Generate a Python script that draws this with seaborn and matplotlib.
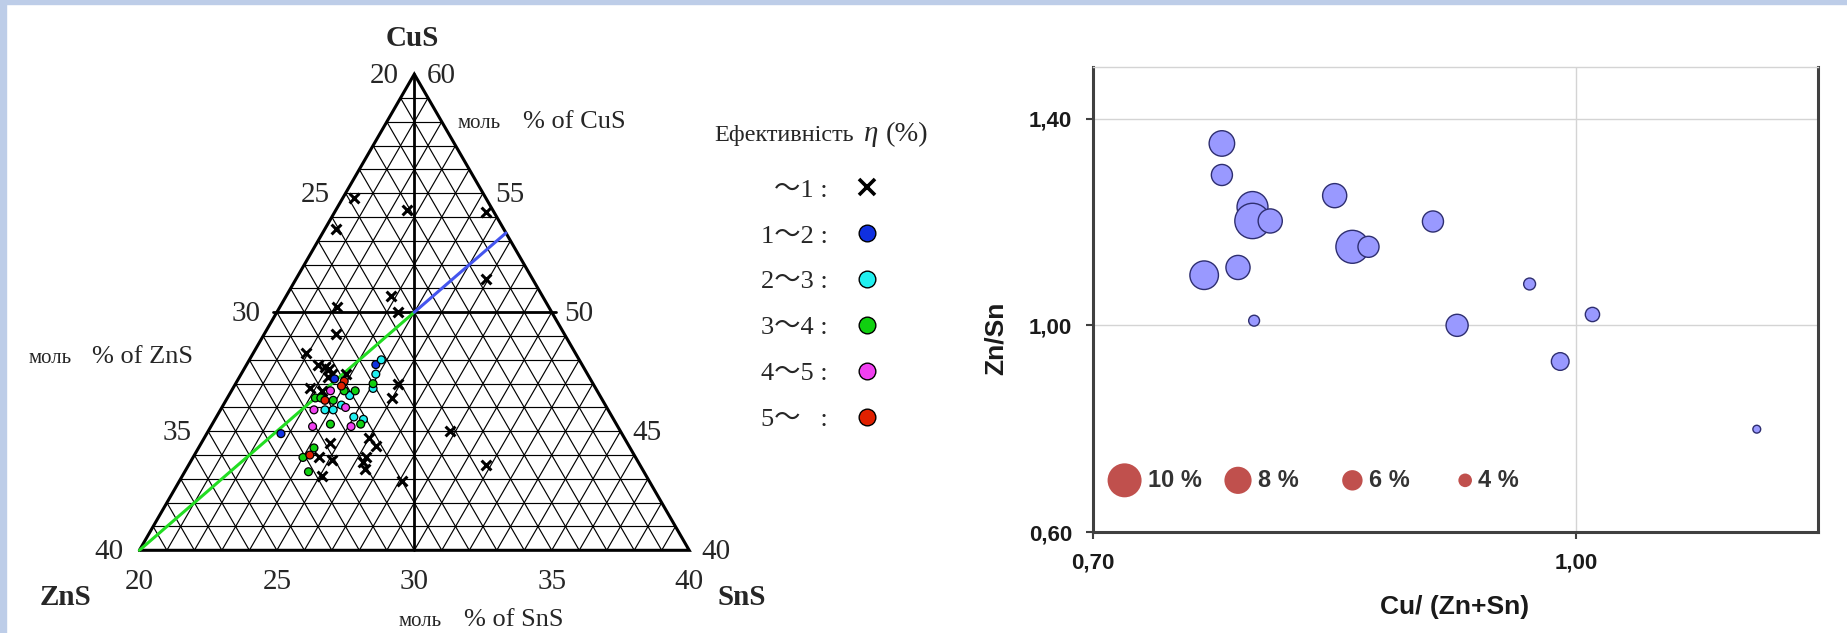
import numpy as np
import pandas as pd
import matplotlib
matplotlib.use("Agg")
import matplotlib.pyplot as plt
from matplotlib.lines import Line2D
from matplotlib.patches import Rectangle
import seaborn as sns

W, H = 1847, 633

# ---- ternary data (mol % CuS, mol % SnS; ZnS = 100 - CuS - SnS) ----
cross_cus = [54.8, 54.3, 54.2, 53.5, 51.4, 50.7, 50.2, 50.0, 49.1, 48.3, 47.8, 47.7,
             47.6, 47.4, 47.4, 47.3, 46.8, 46.7, 47.0, 46.4, 44.5, 43.9, 43.8, 43.1,
             44.7, 44.4, 43.9, 43.7, 43.4, 42.9, 45.0, 43.6]
cross_sns = [20.4, 22.6, 25.5, 20.4, 26.9, 23.8, 22.1, 24.4, 22.6, 21.9, 22.6, 22.9,
             23.1, 23.3, 23.8, 23.2, 22.8, 23.3, 25.9, 26.0, 24.7, 24.6, 25.1, 25.1,
             26.0, 26.4, 26.3, 26.3, 26.5, 28.1, 28.8, 30.8]

blue_cus = [47.8, 47.2, 44.9]
blue_sns = [24.7, 23.5, 22.7]
cyan_cus = [48.0, 47.4, 46.8, 46.5, 45.9, 45.9, 46.1, 45.6, 45.5]
cyan_sns = [24.8, 24.9, 25.1, 24.4, 23.8, 24.1, 24.3, 25.0, 25.4]
green_cus = [47.0, 46.7, 46.7, 46.4, 46.4, 46.3, 45.3, 45.3, 44.3, 43.9, 43.3]
green_sns = [25.0, 24.1, 24.5, 23.2, 23.4, 23.9, 24.3, 25.4, 24.2, 24.0, 24.5]
magenta_cus = [46.7, 45.9, 46.0, 45.2, 45.2]
magenta_sns = [23.6, 23.4, 24.5, 23.7, 25.1]
red_cus = [47.1, 46.9, 46.3, 44.0]
red_sns = [23.9, 23.9, 23.6, 24.2]

eff_classes = ["1\u301c2", "2\u301c3", "3\u301c4", "4\u301c5", "5\u301c"]
eff_colors = ["#1030E0", "#20F0F0", "#10D010", "#F040F0", "#E02000"]

# stoichiometric line (green part, blue part)
line_cus = [40.0, 50.0, 53.33]
line_sns = [20.0, 25.0, 26.67]

zns_ticks = [20, 25, 30, 35, 40]   # left side, at CuS = 60..40
cus_ticks = [60, 55, 50, 45, 40]   # right side
sns_ticks = [20, 25, 30, 35, 40]   # bottom

# ---- bubble chart data ----
cu_ratio = [0.780, 0.780, 0.799, 0.799, 0.810, 0.850, 0.861, 0.871, 0.911,
            0.769, 0.790, 0.800, 0.926, 0.971, 1.010, 0.990, 1.112]
zn_sn = [1.352, 1.291, 1.229, 1.202, 1.202, 1.251, 1.152, 1.152, 1.201,
         1.097, 1.112, 1.009, 1.000, 1.080, 1.021, 0.930, 0.799]
efficiency = [7.5, 6.2, 9.1, 10.4, 7.1, 7.1, 9.7, 6.2, 6.2,
              8.4, 7.1, 3.2, 6.5, 3.5, 4.2, 5.2, 2.3]

scale_eff = [10, 8, 6, 4]
scale_x = [0.7196, 0.790, 0.861, 0.931]
scale_y = [0.700, 0.700, 0.700, 0.700]

x_ticks = [0.70, 1.00]
y_ticks = [0.60, 1.00, 1.40]

sns.set_theme(style="white")
plt.rcParams["font.family"] = ["Liberation Serif", "Noto Sans CJK JP", "DejaVu Sans"]

SQ3 = np.sqrt(3) / 2


def tern(cu, sn):
    cu = np.asarray(cu, float)
    sn = np.asarray(sn, float)
    return (sn - 20) + (cu - 40) / 2, (cu - 40) * SQ3


fig = plt.figure(figsize=(W / 100, H / 100), dpi=100)
fig.patch.set_facecolor("white")
fig.patches.append(Rectangle((0, 0), 6 / W, 1, transform=fig.transFigure,
                             color="#BDCDE8", zorder=0))
fig.patches.append(Rectangle((0, 1 - 4 / H), 1, 4 / H, transform=fig.transFigure,
                             color="#BDCDE8", zorder=0))

# ================= ternary panel =================
PX = 27.49
X0, Y0 = 139.4, 550.3
ax_t = fig.add_axes([0, 0, 720 / W, 1])
ax_t.set_xlim(-X0 / PX, (720 - X0) / PX)
ax_t.set_ylim((Y0 - H) / PX, Y0 / PX)
ax_t.axis("off")

# 1 % grid
for k in range(1, 20):
    c = 40 + k
    x, y = tern([c, c], [20, 80 - c])
    ax_t.plot(x, y, color="black", lw=0.85, zorder=1)
    s = 20 + k
    x, y = tern([40, 80 - s], [s, s])
    ax_t.plot(x, y, color="black", lw=0.85, zorder=1)
    z = 20 + k
    x, y = tern([40, 80 - z], [60 - z, 20])
    ax_t.plot(x, y, color="black", lw=0.85, zorder=1)

# outline and bold guide lines
x, y = tern([40, 40, 60, 40], [20, 40, 20, 20])
ax_t.plot(x, y, color="black", lw=2.2, zorder=2, solid_joinstyle="miter")
x, y = tern([40, 60], [30, 20])
ax_t.plot(x, y, color="black", lw=2.0, zorder=2)
x, y = tern([50, 50], [19.85, 30.15])
ax_t.plot(x, y, color="black", lw=2.0, zorder=2)

x, y = tern(line_cus, line_sns)
ax_t.plot(x[:2], y[:2], color="#22DD22", lw=2.2, zorder=3)
ax_t.plot(x[1:], y[1:], color="#4455EE", lw=2.2, zorder=3)

# points
cx, cy = tern(cross_cus, cross_sns)
sns.scatterplot(x=cx, y=cy, marker="x", color="black", s=50, linewidth=2.2,
                ax=ax_t, zorder=4, legend=False)

rows = []
for cls, cus, sns_ in zip(eff_classes,
                          [blue_cus, cyan_cus, green_cus, magenta_cus, red_cus],
                          [blue_sns, cyan_sns, green_sns, magenta_sns, red_sns]):
    for c, s in zip(cus, sns_):
        rows.append((cls, c, s))
df = pd.DataFrame(rows, columns=["cls", "cu", "sn"])
df["X"], df["Y"] = tern(df["cu"], df["sn"])
sns.scatterplot(data=df, x="X", y="Y", hue="cls", hue_order=eff_classes,
                palette=dict(zip(eff_classes, eff_colors)), s=32,
                edgecolor="black", linewidth=0.9, ax=ax_t, zorder=5, legend=False)

# tick labels
num_font = dict(fontsize=21, family="Liberation Serif")
for z, c in zip(zns_ticks, [60, 55, 50, 45, 40]):
    x, y = tern(c, 20)
    ax_t.annotate(str(z), (x, y), xytext=(-16, -2), textcoords="offset pixels",
                  ha="right", va="center", **num_font)
for c in cus_ticks:
    x, y = tern(c, 80 - c)
    ax_t.annotate(str(c), (x, y), xytext=(12, -2), textcoords="offset pixels",
                  ha="left", va="center", **num_font)
for s in sns_ticks:
    x, y = tern(40, s)
    ax_t.annotate(str(s), (x, y), xytext=(0, -32), textcoords="offset pixels",
                  ha="center", va="center", **num_font)

bold_font = dict(fontsize=21, family="Liberation Serif", fontweight="bold")
x, y = tern(60, 20)
ax_t.annotate("CuS", (x, y), xytext=(-2, 36), textcoords="offset pixels",
              ha="center", va="center", **bold_font)
x, y = tern(40, 20)
ax_t.annotate("ZnS", (x, y), xytext=(-74, -47), textcoords="offset pixels",
              ha="center", va="center", **bold_font)
x, y = tern(40, 40)
ax_t.annotate("SnS", (x, y), xytext=(53, -47), textcoords="offset pixels",
              ha="center", va="center", **bold_font)


def ftext(px, py, s, **kw):
    return fig.text(px / W, 1 - py / H, s, **kw)


for mx, px_, py, lab in [(458, 523, 128, "% of CuS"), (29, 92, 363, "% of ZnS"),
                         (399, 464, 626, "% of SnS")]:
    ftext(mx, py, "моль", fontsize=15, va="baseline", ha="left")
    ftext(px_, py, lab, fontsize=19, va="baseline", ha="left")

# legend
ftext(714, 141, "Ефективність", fontsize=17.5, va="baseline", ha="left")
ftext(864, 141, "\u03b7", fontsize=21, va="baseline", ha="left", style="italic")
ftext(886, 141, "(%)", fontsize=20.5, va="baseline", ha="left")

handles = [Line2D([], [], ls="", marker="x", color="black", ms=11, mew=2.6)]
for col in eff_colors:
    handles.append(Line2D([], [], ls="", marker="o", mfc=col, mec="black",
                          mew=1.0, ms=12))
labels = ["\u301c1 :"] + [f"{c} :" if c != "5\u301c" else "5\u301c\u2002 :" for c in eff_classes]
ax_t.legend(handles, labels, loc="upper right", markerfirst=False, frameon=False,
            bbox_to_anchor=(893 / W, 1 - 165 / H), bbox_transform=fig.transFigure,
            borderpad=0, handlelength=1.0, handletextpad=0.98, labelspacing=0.85,
            prop=dict(family=["Liberation Serif", "Noto Sans CJK JP"], size=19))

# ================= bubble chart =================
ax_b = fig.add_axes([1093 / W, 1 - 532 / H, (1818 - 1093) / W, (532 - 67) / H])
bub_px = 3.4  # bubble diameter in px per % efficiency
sizes = {v: (bub_px * 0.72 * v) ** 2 for v in set(efficiency)}
sns.scatterplot(x=cu_ratio, y=zn_sn, size=efficiency, sizes=sizes,
                color="#9999FF", edgecolor="#2E2E70", linewidth=1.0,
                ax=ax_b, legend=False, zorder=3)
sizes_s = {v: (bub_px * 0.72 * v) ** 2 for v in scale_eff}
sns.scatterplot(x=scale_x, y=scale_y, size=scale_eff, sizes=sizes_s,
                color="#C0504D", edgecolor="none", ax=ax_b, legend=False, zorder=3)
for v, sx, sy in zip(scale_eff, scale_x, scale_y):
    ax_b.annotate(f"{v} %", (sx, sy), xytext=(bub_px * v / 2 + 6, 0),
                  textcoords="offset pixels", ha="left", va="center",
                  fontsize=17, fontweight="bold", color="#333333",
                  family="Liberation Sans")

ax_b.set_xlim(0.70, 1.15)
ax_b.set_ylim(0.60, 1.50)
ax_b.set_xticks(x_ticks)
ax_b.set_yticks(y_ticks)
ax_b.set_xticklabels([f"{t:.2f}".replace(".", ",") for t in x_ticks])
ax_b.set_yticklabels([f"{t:.2f}".replace(".", ",") for t in y_ticks])
ax_b.grid(True, color="#D4D4D4", lw=1.0)
ax_b.set_axisbelow(True)
for side in ["left", "bottom", "right"]:
    ax_b.spines[side].set_color("#404040")
    ax_b.spines[side].set_linewidth(2.2)
ax_b.spines["top"].set_color("#D4D4D4")
ax_b.spines["top"].set_linewidth(1.0)
ax_b.tick_params(axis="both", which="major", length=5, width=1.5, color="#404040",
                 labelsize=16, labelcolor="#1A1A1A", pad=10, left=True, bottom=True)
for lab in ax_b.get_xticklabels() + ax_b.get_yticklabels():
    lab.set_family("Liberation Sans")
    lab.set_fontweight("bold")

ax_b.set_xlabel("Cu/ (Zn+Sn)", fontsize=19, fontweight="bold",
                family="Liberation Sans", color="#1A1A1A")
ax_b.set_ylabel("Zn/Sn", fontsize=19, fontweight="bold",
                family="Liberation Sans", color="#1A1A1A")
ax_b.xaxis.set_label_coords(0.499, -0.135)
ax_b.yaxis.set_label_coords(-0.117, 0.417)

fig.savefig("out.png", dpi=100)
